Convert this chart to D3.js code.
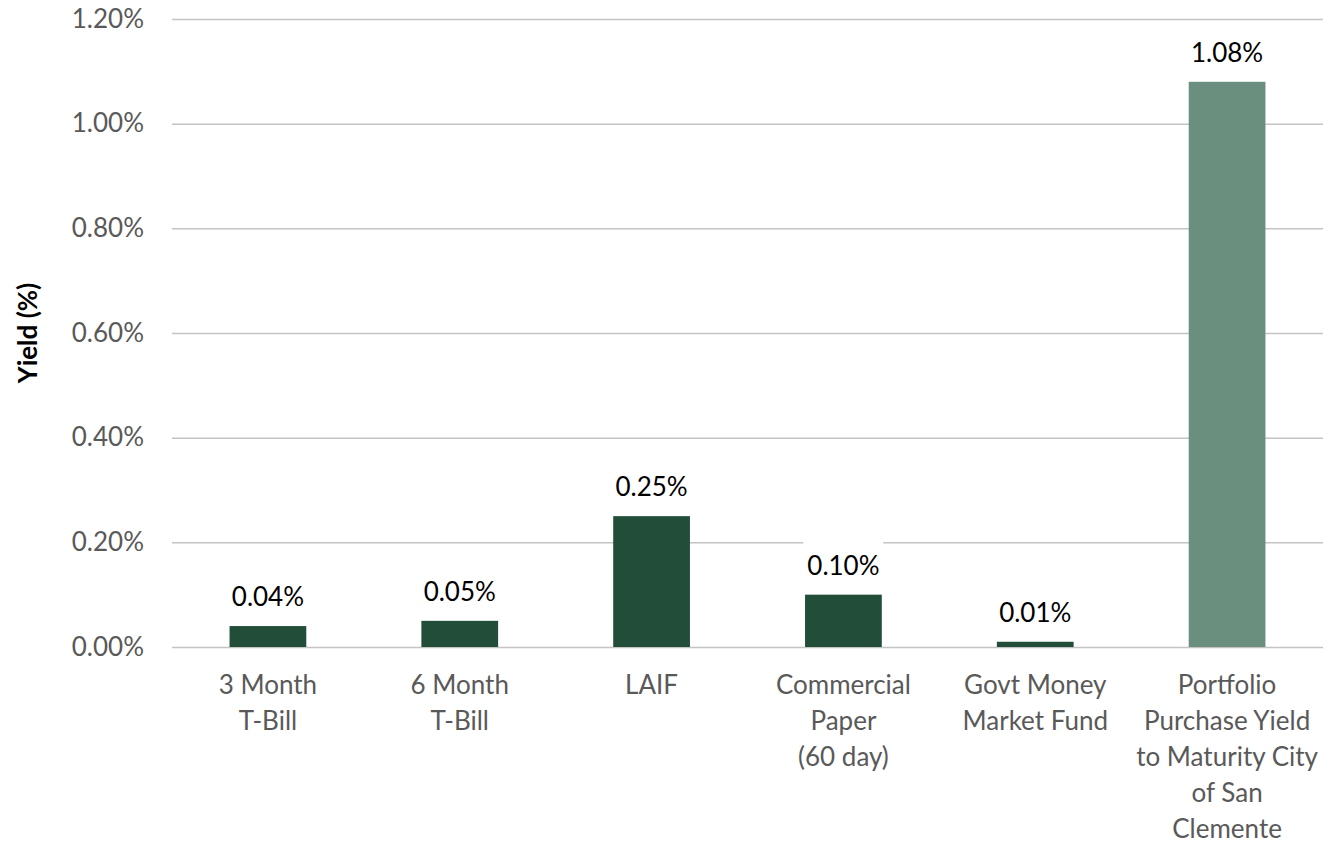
<!DOCTYPE html>
<meta charset="utf-8">
<head>
<style>
body { margin: 0; background: #fff; }
text { font-family: Lato, "Open Sans", sans-serif; }
</style>
</head>
<script src="https://d3js.org/d3.v7.min.js"></script>
<div id="chart"></div>
<script>
// chart values
var categories = ["3 Month T-Bill", "6 Month T-Bill", "LAIF", "Commercial Paper (60 day)",
                  "Govt Money Market Fund", "Portfolio Purchase Yield to Maturity City of San Clemente"];
var labelLines = [["3 Month", "T-Bill"], ["6 Month", "T-Bill"], ["LAIF"], ["Commercial", "Paper", "(60 day)"],
                  ["Govt Money", "Market Fund"], ["Portfolio", "Purchase Yield", "to Maturity City", "of San", "Clemente"]];
var values = [0.04, 0.05, 0.25, 0.10, 0.01, 1.08];
var yTicks = [0, 0.2, 0.4, 0.6, 0.8, 1.0, 1.2];

var W = 1329, H = 843;
var margin = {top: 19, right: 6, bottom: 196, left: 172};
var width = W - margin.left - margin.right,
    height = H - margin.top - margin.bottom;

var svg = d3.select("#chart").append("svg")
    .attr("width", W).attr("height", H)
  .append("g")
    .attr("transform", "translate(" + margin.left + "," + margin.top + ")");

var x = d3.scaleBand()
  .domain(categories)
  .range([0, width])
  .paddingInner(0.6)
  .paddingOuter(0.3);

var y = d3.scaleLinear()
  .domain([0, 1.2])
  .range([height, 0]);

// gridlines + tick labels
var yAxis = svg.append("g")
  .call(d3.axisLeft(y).tickValues(yTicks).tickSize(-width).tickPadding(28)
    .tickFormat(function(d) { return d3.format(".2f")(d) + "%"; }));
yAxis.select(".domain").remove();
yAxis.selectAll(".tick line").attr("stroke", "#c4c4c4").attr("stroke-width", 1.5);
yAxis.selectAll(".tick text")
  .attr("fill", "#595959")
  .style("font-size", "26px");

// axis title
svg.append("text")
  .attr("transform", "translate(" + (28 - margin.left) + "," + (height / 2) + ") rotate(-90)")
  .attr("text-anchor", "middle")
  .attr("dy", "0.35em")
  .style("font-size", "26px")
  .style("font-weight", "bold")
  .attr("fill", "#000")
  .text("Yield (%)");

// bars
svg.append("g").selectAll("rect")
  .data(values)
  .enter().append("rect")
    .attr("x", function(d, i) { return x(categories[i]); })
    .attr("width", x.bandwidth())
    .attr("y", function(d) { return y(d); })
    .attr("height", function(d) { return height - y(d); })
    .attr("fill", function(d, i) { return i == values.length - 1 ? "#6a8f7e" : "#224d38"; });

// data labels with white backing box
var lab = svg.append("g").selectAll("g")
  .data(values)
  .enter().append("g")
    .attr("transform", function(d, i) {
      return "translate(" + (x(categories[i]) + x.bandwidth() / 2) + "," + (y(d) - 20) + ")";
    });
lab.append("rect")
  .attr("x", -40).attr("y", -33).attr("width", 80).attr("height", 40)
  .attr("fill", "#fff");
lab.append("text")
  .attr("text-anchor", "middle")
  .style("font-size", "26px")
  .attr("fill", "#000")
  .text(function(d) { return d3.format(".2f")(d) + "%"; });

// category labels
var cat = svg.append("g").selectAll("text")
  .data(labelLines)
  .enter().append("text")
    .attr("text-anchor", "middle")
    .attr("fill", "#595959")
    .style("font-size", "26px")
    .attr("transform", function(d, i) {
      return "translate(" + (x(categories[i]) + x.bandwidth() / 2) + "," + (height + 47) + ")";
    });
cat.selectAll("tspan")
  .data(function(d) { return d; })
  .enter().append("tspan")
    .attr("x", 0)
    .attr("y", function(d, j) { return j * 36; })
    .text(function(d) { return d; });
</script>
